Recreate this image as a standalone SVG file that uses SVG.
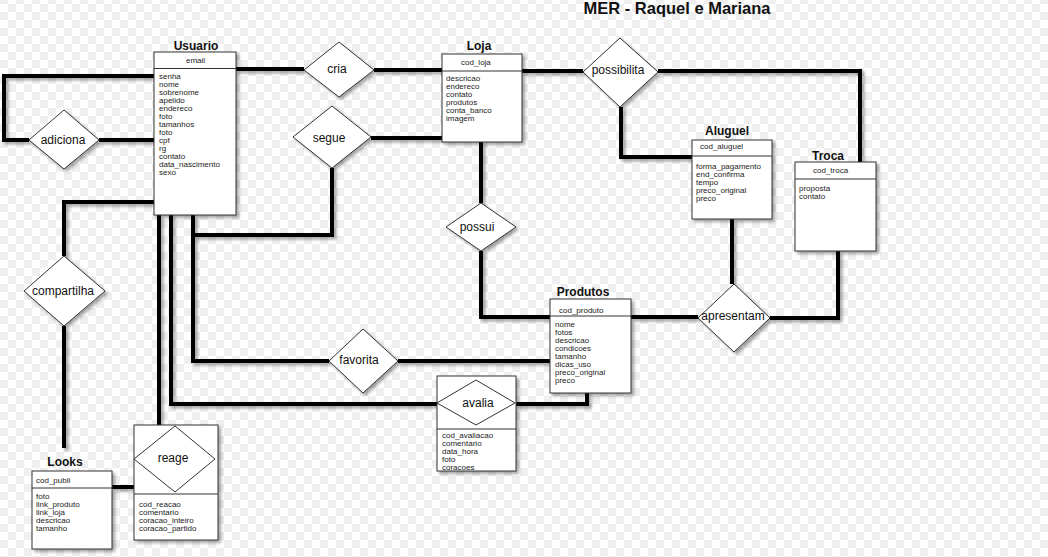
<svg xmlns="http://www.w3.org/2000/svg" width="1048" height="557" viewBox="0 0 1048 557">
<style>
.ttl{font-family:"Liberation Sans",Arial,sans-serif;font-weight:bold;font-size:12px;fill:#111;text-anchor:middle}
.main{font-family:"Liberation Sans",Arial,sans-serif;font-weight:bold;font-size:16.5px;fill:#111;text-anchor:middle}
.att{font-family:"Liberation Sans",Arial,sans-serif;font-size:8px;fill:#222}
.rel{font-family:"Liberation Sans",Arial,sans-serif;font-size:12px;fill:#111;text-anchor:middle}
.box{fill:#fff;stroke:#333;stroke-width:1}
.sep{stroke:#333;stroke-width:1}
.dia{fill:#fff;stroke:#333;stroke-width:1}
.con{fill:none;stroke:#000;stroke-width:4}
</style>
<defs>
<pattern id="chk" width="16" height="16" patternUnits="userSpaceOnUse" y="-4">
<rect width="16" height="16" fill="#fff"/>
<rect width="8" height="8" fill="#efefef"/>
<rect x="8" y="8" width="8" height="8" fill="#efefef"/>
</pattern>
<filter id="sh" x="-20%" y="-20%" width="140%" height="140%">
<feDropShadow dx="2.5" dy="2.5" stdDeviation="1.5" flood-color="#000" flood-opacity="0.35"/>
</filter>
</defs>
<rect width="1048" height="557" fill="url(#chk)"/>
<text class="main" x="677" y="14">MER - Raquel e Mariana</text>

<g id="connectors" filter="url(#sh)">
<path class="con" d="M236,69 H304"/>
<path class="con" d="M374,70 H442"/>
<path class="con" d="M154,76 H4 V140 H29"/>
<path class="con" d="M99,140 H154"/>
<path class="con" d="M371,138 H442"/>
<path class="con" d="M193,215 V235 H332 V168"/>
<path class="con" d="M193,215 V361 H329"/>
<path class="con" d="M398,361 H550"/>
<path class="con" d="M171,215 V404 H437"/>
<path class="con" d="M515,404 H587 V393"/>
<path class="con" d="M159,215 V425"/>
<path class="con" d="M154,202 H64 V256"/>
<path class="con" d="M64,326 V448"/>
<path class="con" d="M112,487 H134"/>
<path class="con" d="M481,142 V203"/>
<path class="con" d="M481,251 V317 H550"/>
<path class="con" d="M522,71 H583"/>
<path class="con" d="M658,71 H860 V162"/>
<path class="con" d="M621,107 V157 H692"/>
<path class="con" d="M732,219 V284"/>
<path class="con" d="M770,318 H838 V251"/>
<path class="con" d="M631,317 H698"/>
</g>

<g id="usuario">
<text class="ttl" x="196" y="49.5">Usuario</text>
<rect class="box" x="154" y="52" width="82" height="163" filter="url(#sh)"/>
<line class="sep" x1="154" y1="68.5" x2="236" y2="68.5"/>
<text class="att" x="186" y="62.5">email</text>
<text class="att" x="159" y="79">senha</text>
<text class="att" x="159" y="87">nome</text>
<text class="att" x="159" y="95">sobrenome</text>
<text class="att" x="159" y="103">apelido</text>
<text class="att" x="159" y="111">endereco</text>
<text class="att" x="159" y="119">foto</text>
<text class="att" x="159" y="127">tamanhos</text>
<text class="att" x="159" y="135">foto</text>
<text class="att" x="159" y="143">cpf</text>
<text class="att" x="159" y="151">rg</text>
<text class="att" x="159" y="159">contato</text>
<text class="att" x="159" y="167">data_nascimento</text>
<text class="att" x="159" y="175">sexo</text>
</g>

<g id="loja">
<text class="ttl" x="479" y="50">Loja</text>
<rect class="box" x="442" y="54" width="80" height="88" filter="url(#sh)"/>
<line class="sep" x1="442" y1="71" x2="522" y2="71"/>
<text class="att" x="461" y="65">cod_loja</text>
<text class="att" x="446" y="81">descricao</text>
<text class="att" x="446" y="89">endereco</text>
<text class="att" x="446" y="97">contato</text>
<text class="att" x="446" y="105">produtos</text>
<text class="att" x="446" y="113">conta_banco</text>
<text class="att" x="446" y="121">imagem</text>
</g>

<g id="aluguel">
<text class="ttl" x="727" y="135">Aluguel</text>
<rect class="box" x="692" y="140" width="80" height="79" filter="url(#sh)"/>
<line class="sep" x1="692" y1="156" x2="772" y2="156"/>
<text class="att" x="700" y="149">cod_aluguel</text>
<text class="att" x="696" y="168.5">forma_pagamento</text>
<text class="att" x="696" y="176.5">end_confirma</text>
<text class="att" x="696" y="184.5">tempo</text>
<text class="att" x="696" y="192.5">preco_original</text>
<text class="att" x="696" y="200.5">preco</text>
</g>

<g id="troca">
<text class="ttl" x="828" y="160">Troca</text>
<rect class="box" x="795" y="162" width="81" height="89" filter="url(#sh)"/>
<line class="sep" x1="795" y1="179" x2="876" y2="179"/>
<text class="att" x="813" y="173">cod_troca</text>
<text class="att" x="799" y="191">proposta</text>
<text class="att" x="799" y="199">contato</text>
</g>

<g id="produtos">
<text class="ttl" x="583" y="296">Produtos</text>
<rect class="box" x="550" y="299" width="81" height="94" filter="url(#sh)"/>
<line class="sep" x1="550" y1="316" x2="631" y2="316"/>
<text class="att" x="559" y="313">cod_produto</text>
<text class="att" x="555" y="327">nome</text>
<text class="att" x="555" y="335">fotos</text>
<text class="att" x="555" y="343">descricao</text>
<text class="att" x="555" y="351">condicoes</text>
<text class="att" x="555" y="359">tamanho</text>
<text class="att" x="555" y="367">dicas_uso</text>
<text class="att" x="555" y="375">preco_original</text>
<text class="att" x="555" y="383">preco</text>
</g>

<g id="looks">
<text class="ttl" x="65" y="466">Looks</text>
<rect class="box" x="32" y="471" width="80" height="78" filter="url(#sh)"/>
<line class="sep" x1="32" y1="488" x2="112" y2="488"/>
<text class="att" x="36" y="483">cod_publi</text>
<text class="att" x="36" y="499">foto</text>
<text class="att" x="36" y="507">link_produto</text>
<text class="att" x="36" y="515">link_loja</text>
<text class="att" x="36" y="523">descricao</text>
<text class="att" x="36" y="531">tamanho</text>
</g>

<g id="reage">
<rect class="box" x="134" y="425" width="84" height="115" filter="url(#sh)"/>
<polygon class="dia" points="175,426 215,459 175,492 134,459"/>
<line class="sep" x1="134" y1="494" x2="218" y2="494"/>
<text class="rel" x="173" y="462">reage</text>
<text class="att" x="139" y="507">cod_reacao</text>
<text class="att" x="139" y="515">comentario</text>
<text class="att" x="139" y="523">coracao_inteiro</text>
<text class="att" x="139" y="531">coracao_partido</text>
</g>

<g id="avalia">
<rect class="box" x="437" y="376" width="79" height="95" filter="url(#sh)"/>
<polygon class="dia" points="476,380 515,403 476,425 437,403"/>
<line class="sep" x1="437" y1="429" x2="516" y2="429"/>
<text class="rel" x="478" y="407">avalia</text>
<text class="att" x="442" y="438">cod_avaliacao</text>
<text class="att" x="442" y="446">comentario</text>
<text class="att" x="442" y="454">data_hora</text>
<text class="att" x="442" y="462">foto</text>
<text class="att" x="442" y="470">coracoes</text>
</g>

<g id="cria">
<polygon class="dia" points="339,42 374,70 339,97 304,70" filter="url(#sh)"/>
<text class="rel" x="337" y="73">cria</text>
</g>
<g id="segue">
<polygon class="dia" points="332,106 371,137 332,168 293,137" filter="url(#sh)"/>
<text class="rel" x="329" y="142">segue</text>
</g>
<g id="adiciona">
<polygon class="dia" points="64,110 99,140 64,169 29,140" filter="url(#sh)"/>
<text class="rel" x="63" y="144">adiciona</text>
</g>
<g id="compartilha">
<polygon class="dia" points="64,256 105,291 64,326 24,291" filter="url(#sh)"/>
<text class="rel" x="63" y="295">compartilha</text>
</g>
<g id="possibilita">
<polygon class="dia" points="620,38 658,72 620,107 583,72" filter="url(#sh)"/>
<text class="rel" x="618" y="74">possibilita</text>
</g>
<g id="possui">
<polygon class="dia" points="481,203 516,227 481,251 446,227" filter="url(#sh)"/>
<text class="rel" x="477" y="231">possui</text>
</g>
<g id="favorita">
<polygon class="dia" points="363,329 398,361 363,393 329,361" filter="url(#sh)"/>
<text class="rel" x="359" y="364">favorita</text>
</g>
<g id="apresentam">
<polygon class="dia" points="734,284 770,318 734,352 698,318" filter="url(#sh)"/>
<text class="rel" x="733" y="320">apresentam</text>
</g>
</svg>
